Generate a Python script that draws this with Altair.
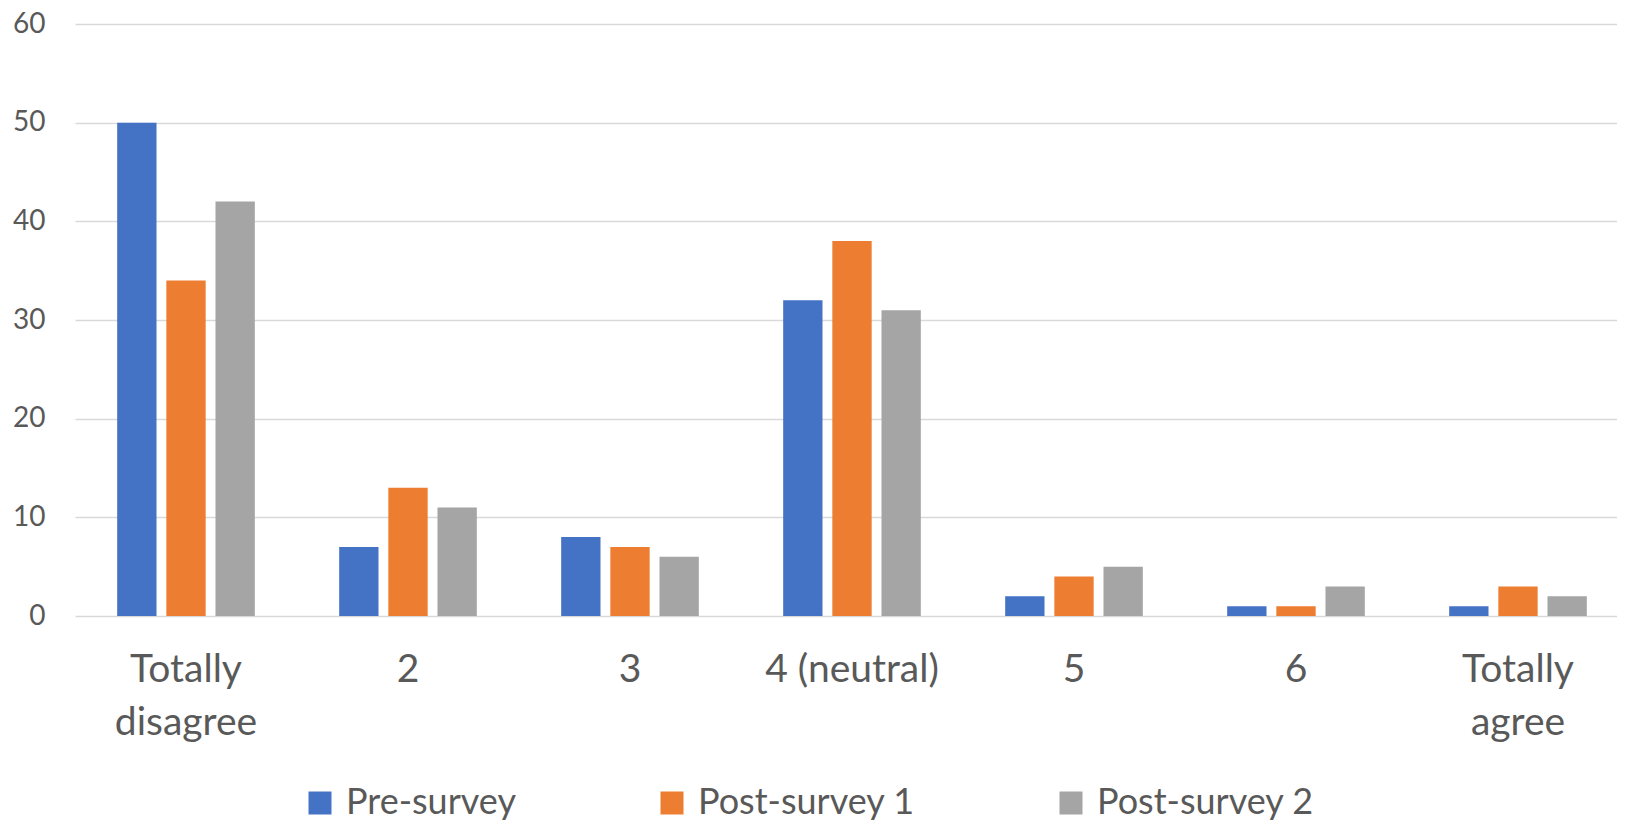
import altair as alt
import pandas as pd

categories = ["Totally disagree", "2", "3", "4 (neutral)", "5", "6", "Totally agree"]
series = ["Pre-survey", "Post-survey 1", "Post-survey 2"]
pre_survey = [50, 7, 8, 32, 2, 1, 1]
post_survey_1 = [34, 13, 7, 38, 4, 1, 3]
post_survey_2 = [42, 11, 6, 31, 5, 3, 2]
colors = ["#4472C4", "#ED7D31", "#A5A5A5"]

rows = []
for name, vals in zip(series, [pre_survey, post_survey_1, post_survey_2]):
    for c, v in zip(categories, vals):
        rows.append({"category": c, "series": name, "value": v})
df = pd.DataFrame(rows)

FONT = "Lato"
TXT = "#595959"

chart = alt.Chart(df).mark_bar().encode(
    x=alt.X("category:N", sort=categories, title=None,
            scale=alt.Scale(paddingInner=0.38, paddingOuter=0.19, range=[0, 1554]),
            axis=alt.Axis(labelAngle=0, labelFont=FONT, labelFontSize=39,
                          labelColor=TXT, labelPadding=34, labelLineHeight=53,
                          ticks=False, domain=False, grid=False,
                          labelExpr="indexof(datum.label, 'Totally') == 0 ? split(datum.label, ' ') : datum.label")),
    xOffset=alt.XOffset("series:N", sort=series,
                        scale=alt.Scale(paddingInner=0.2, paddingOuter=0)),
    y=alt.Y("value:Q", title=None,
            scale=alt.Scale(domain=[0, 60], nice=False),
            axis=alt.Axis(values=[0, 10, 20, 30, 40, 50, 60], labelFont=FONT,
                          labelFontSize=28, labelColor=TXT, labelPadding=30,
                          ticks=False, domain=False, grid=True,
                          gridColor="#D9D9D9", gridWidth=1.5)),
    color=alt.Color("series:N", sort=series,
                    scale=alt.Scale(domain=series, range=colors),
                    legend=alt.Legend(title=None, orient="none", direction="horizontal",
                                      legendX=227, legendY=761,
                                      symbolType="square", symbolSize=529,
                                      symbolStrokeWidth=0, symbolOpacity=1,
                                      labelFont=FONT, labelFontSize=36,
                                      labelColor=TXT, labelOffset=8,
                                      columnPadding=138, labelLimit=400)),
).properties(
    width=1542,
    height=592,
    autosize=alt.AutoSizeParams(type="none"),
    padding={"left": 67, "top": 16, "right": 0, "bottom": 210},
    background="white",
).configure_view(stroke=None)

chart.save("out.html", embed_options={"renderer": "svg", "actions": False})
